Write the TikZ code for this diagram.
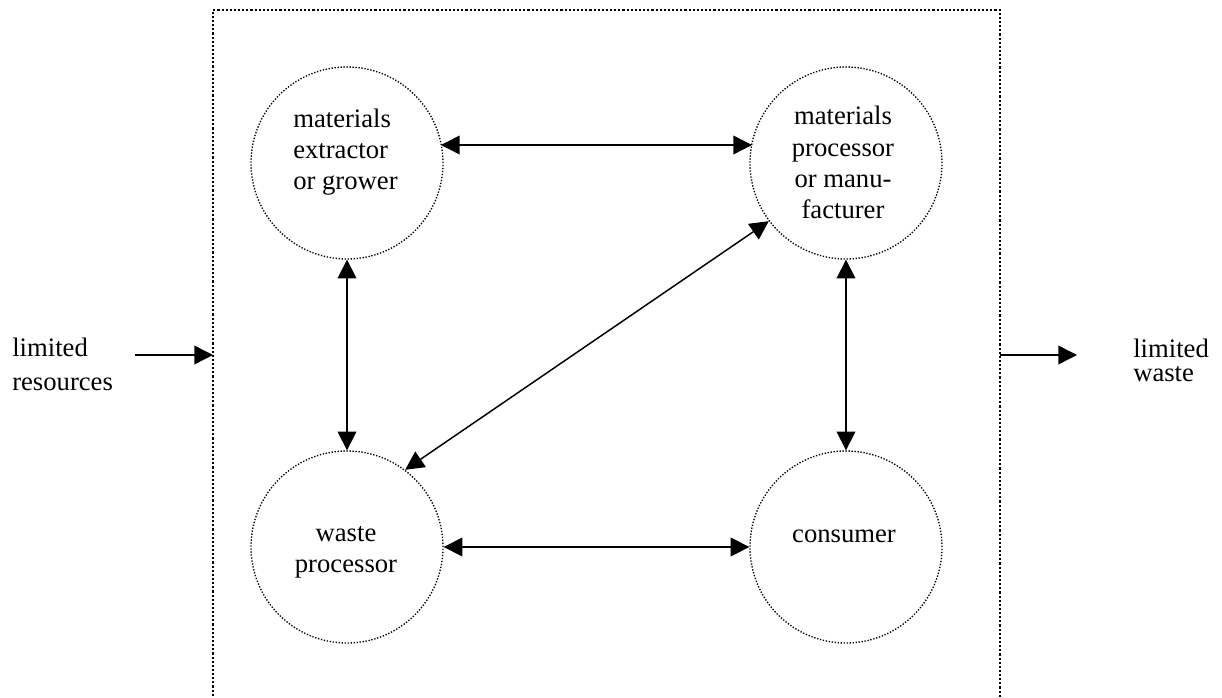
\documentclass[tikz,border=0pt]{standalone}
\usepackage{fontspec}
\setmainfont{Liberation Serif}
\usetikzlibrary{arrows.meta}
\begin{document}
\begin{tikzpicture}[x=0.75pt,y=-0.75pt,
  circ/.style={circle,draw,line width=1pt,dash pattern=on 1pt off 1.25pt,minimum size=144pt,inner sep=0pt},
  frame/.style={line width=1.7pt,dash pattern=on 1.6pt off 1.5pt},
  conn/.style={line width=1.1pt,{Triangle[length=14pt,width=14pt]}-{Triangle[length=14pt,width=14pt]}},
  oneway/.style={line width=1.1pt,-{Triangle[length=14pt,width=14pt]}},
  lbl/.style={inner sep=0pt,font=\fontsize{20}{23.6}\selectfont}]
\useasboundingbox (0,0) rectangle (1222,698);
\draw[frame] (213,700) -- (213,10) -- (1000,10) -- (1000,700);
\node[circ] (tl) at (347,163) {};
\node[circ] (tr) at (846,163) {};
\node[circ] (bl) at (347,547) {};
\node[circ] (br) at (846,547) {};
\node[lbl,anchor=base west,align=left] (tltext) at (293,190) {materials\\extractor\\or grower};
\node[lbl,anchor=base,align=center] (trtext) at (843,219) {materials\\processor\\or manu-\\facturer};
\node[lbl,anchor=base,align=center] (bltext) at (346,573) {waste\\processor};
\node[lbl,anchor=base,align=center] (brtext) at (844,543) {consumer};
\node[lbl,anchor=base west,align=left,font=\fontsize{20}{25.5}\selectfont] (inlbl) at (12,391) {limited\\resources};
\node[lbl,anchor=base west,align=left,font=\fontsize{20}{18.5}\selectfont] (outlbl) at (1133,382) {limited\\waste};
\coordinate (inA) at (135,355);
\coordinate (inB) at (213,355);
\coordinate (outA) at (1000,355);
\coordinate (outB) at (1077,355);
\coordinate (topL) at (441,145);
\coordinate (topR) at (752,145);
\draw[conn] (topL) -- (topR);
\draw[conn] (bl.east) -- (br.west);
\draw[conn] (tl.south) -- (bl.north);
\draw[conn] (tr.south) -- (br.north);
\draw[conn] (bl.53) -- (tr.217);
\draw[oneway] (inA) -- (inB);
\draw[oneway] (outA) -- (outB);
\end{tikzpicture}
\end{document}
